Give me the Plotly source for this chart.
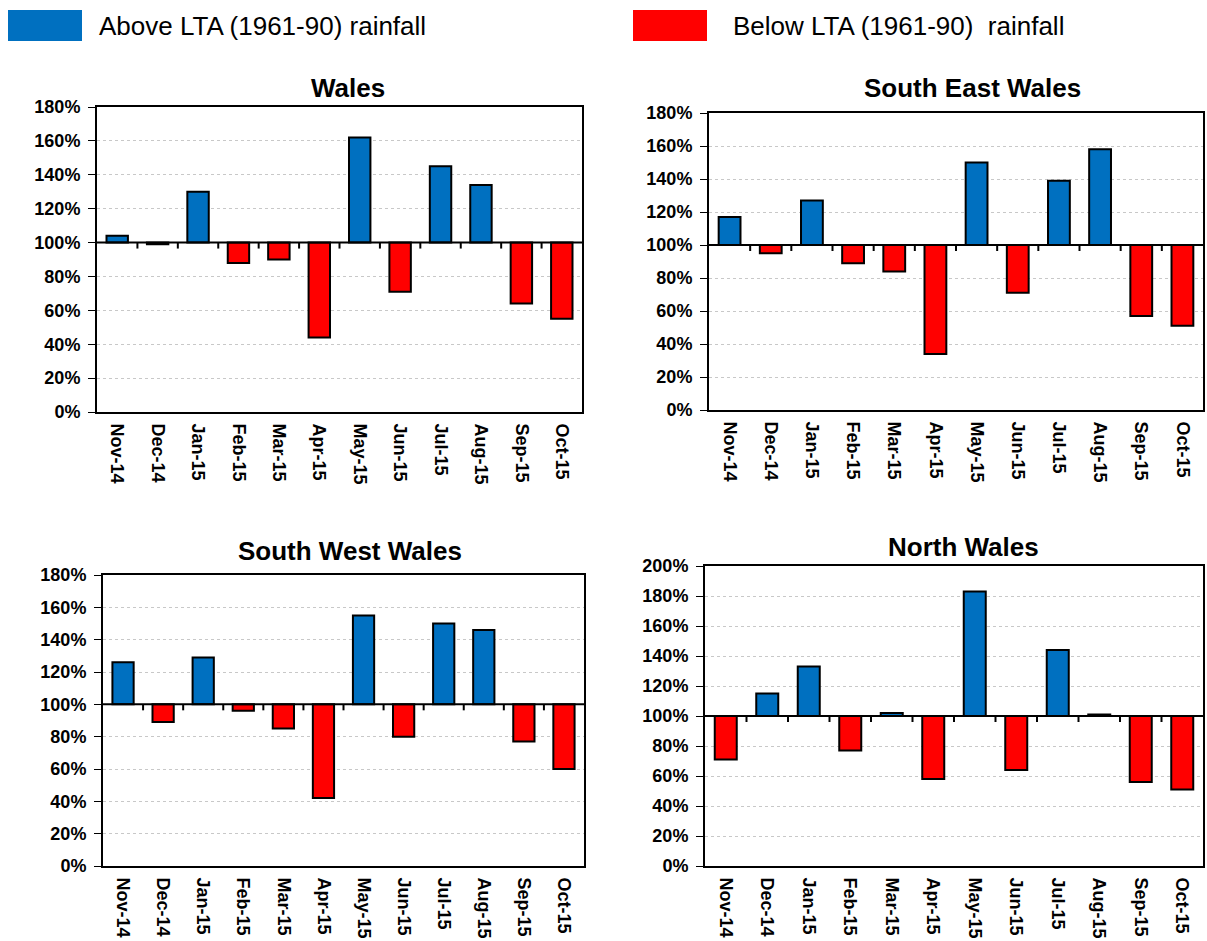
import plotly.graph_objects as go

months = ["Nov-14", "Dec-14", "Jan-15", "Feb-15", "Mar-15", "Apr-15",
          "May-15", "Jun-15", "Jul-15", "Aug-15", "Sep-15", "Oct-15"]

# Monthly rainfall as % of the 1961-90 long-term average
wales = [104, 99, 130, 88, 90, 44, 162, 71, 145, 134, 64, 55]
south_east_wales = [117, 95, 127, 89, 84, 34, 150, 71, 139, 158, 57, 51]
south_west_wales = [126, 89, 129, 96, 85, 42, 155, 80, 150, 146, 77, 60]
north_wales = [71, 115, 133, 77, 102, 58, 183, 64, 144, 101, 56, 51]

BLUE = "#0070C0"
RED = "#FF0000"
LTA = 100
FONT = "Liberation Sans, Arial"

panels = [
    # title, values, x extent, y extent (px), y max, title centre (px)
    ("Wales", wales, [97, 582], [107, 412], 180, (348, 88)),
    ("South East Wales", south_east_wales, [709, 1203], [113, 410], 180, (972, 88)),
    ("South West Wales", south_west_wales, [103, 584], [575, 866], 180, (350, 551)),
    ("North Wales", north_wales, [705, 1203], [566, 866], 200, (963, 547)),
]

W, H = 1207, 941
fig = go.Figure()
shapes = []
annotations = []

for i, (title, vals, xd, yd, ymax, tpos) in enumerate(panels, start=1):
    sfx = "" if i == 1 else str(i)
    colors = [BLUE if v >= LTA else RED for v in vals]
    fig.add_trace(go.Bar(
        x=months, y=[v - LTA for v in vals], base=LTA,
        marker=dict(color=colors, line=dict(color="black", width=2)),
        width=0.53, xaxis="x" + sfx, yaxis="y" + sfx, showlegend=False,
    ))
    fig.update_layout(**{
        "xaxis" + sfx: dict(
            domain=[xd[0] / W, xd[1] / W], anchor="y" + sfx,
            type="category", tickangle=90, ticks="", automargin=False,
            ticklabelstandoff=6,
            showline=True, linecolor="black", linewidth=2, mirror=True,
            showgrid=False, fixedrange=True,
            tickfont=dict(family=FONT, size=18, color="black", weight="bold"),
        ),
        "yaxis" + sfx: dict(
            domain=[1 - yd[1] / H, 1 - yd[0] / H], anchor="x" + sfx,
            range=[0, ymax], dtick=20, ticksuffix="%", automargin=False,
            ticks="outside", ticklen=7, tickcolor="black", tickwidth=1,
            ticklabelstandoff=4,
            showline=True, linecolor="black", linewidth=2, mirror=True,
            showgrid=True, gridcolor="#C8C8C8", griddash="dot", gridwidth=1,
            zeroline=False, fixedrange=True,
            tickfont=dict(family=FONT, size=18, color="black", weight="bold"),
        ),
    })
    # category axis crossing at the long-term average
    shapes.append(dict(type="line", xref="x" + sfx + " domain", yref="y" + sfx,
                       x0=0, x1=1, y0=LTA, y1=LTA,
                       line=dict(color="black", width=2)))
    for k in range(1, len(months)):
        shapes.append(dict(type="line", xref="x" + sfx, yref="y" + sfx,
                           ysizemode="pixel", yanchor=LTA,
                           x0=k - 0.5, x1=k - 0.5, y0=0, y1=-6,
                           line=dict(color="black", width=2)))
    annotations.append(dict(text="<b>" + title + "</b>", xref="paper", yref="paper",
                            x=tpos[0] / W, y=1 - tpos[1] / H, showarrow=False,
                            xanchor="center", yanchor="middle",
                            font=dict(family=FONT, size=26, color="black")))

# key boxes
for (x0, x1, col, label, tx) in [(8, 82, BLUE, "Above LTA (1961-90) rainfall", 97),
                                  (633, 707, RED, "Below LTA (1961-90)  rainfall", 731)]:
    shapes.append(dict(type="rect", xref="paper", yref="paper",
                       x0=x0 / W, x1=x1 / W, y0=1 - 41 / H, y1=1 - 10 / H,
                       fillcolor=col, line=dict(width=0)))
    annotations.append(dict(text=label, xref="paper", yref="paper",
                            x=tx / W, y=1 - 26 / H, showarrow=False,
                            xanchor="left", yanchor="middle",
                            font=dict(family=FONT, size=26, color="black")))

fig.update_layout(
    width=W, height=H, margin=dict(l=0, r=0, t=0, b=0, autoexpand=False),
    paper_bgcolor="white", plot_bgcolor="white",
    bargap=0.45, shapes=shapes, annotations=annotations,
)

fig.write_html("out.html")
